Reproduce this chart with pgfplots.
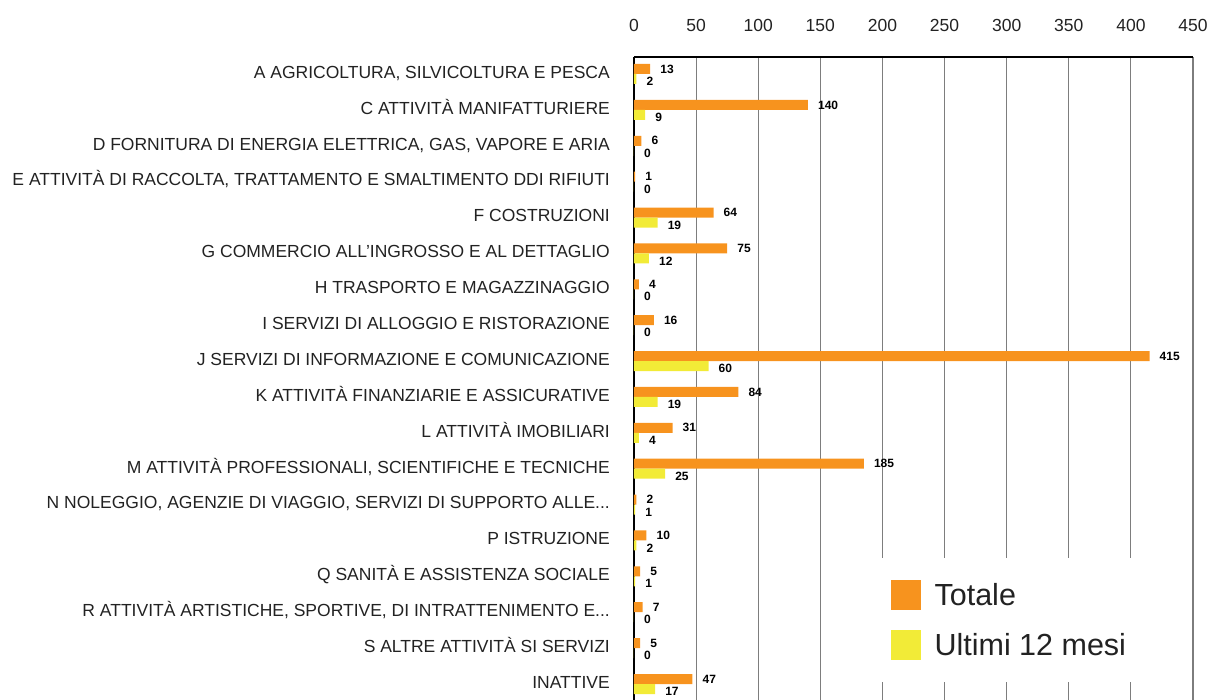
\documentclass[border=0pt]{standalone}
\usepackage{pgfplots}
\pgfplotsset{compat=1.18}
\usepackage{pgfplotstable}
\usepackage{fontspec}
\setmainfont{Liberation Sans}
\definecolor{orangeT}{RGB}{247,147,30}
\definecolor{yellowU}{RGB}{242,235,55}
\definecolor{gridc}{RGB}{125,125,125}
\definecolor{txt}{RGB}{34,34,34}
\newcommand{\dd}{.\kern0pt.\kern0pt.}
\pgfplotstableread{
idx tot ult
0 13 2
1 140 9
2 6 0
3 1 0
4 64 19
5 75 12
6 4 0
7 16 0
8 415 60
9 84 19
10 31 4
11 185 25
12 2 1
13 10 2
14 5 1
15 7 0
16 5 0
17 47 17
}\datatable
\begin{document}
\begin{tikzpicture}
\useasboundingbox (0,0) rectangle (1213pt,-700pt);
\begin{axis}[
  at={(634pt,-57pt)}, anchor=north west,
  scale only axis, width=559pt, height=643pt,
  xbar, bar width=10pt,
  xmin=0, xmax=450, xtick={0,50,...,450},
  ymin=-0.4735, ymax=17.446, y dir=reverse,
  ytick={0,...,17},
  yticklabels={
    {A AGRICOLTURA, SILVICOLTURA E PESCA},
    {C ATTIVITÀ MANIFATTURIERE},
    {D FORNITURA DI ENERGIA ELETTRICA, GAS, VAPORE E ARIA},
    {E ATTIVITÀ DI RACCOLTA, TRATTAMENTO E SMALTIMENTO DDI RIFIUTI},
    {F COSTRUZIONI},
    {G COMMERCIO ALL'INGROSSO E AL DETTAGLIO},
    {H TRASPORTO E MAGAZZINAGGIO},
    {I SERVIZI DI ALLOGGIO E RISTORAZIONE},
    {J SERVIZI DI INFORMAZIONE E COMUNICAZIONE},
    {K ATTIVITÀ FINANZIARIE E ASSICURATIVE},
    {L ATTIVITÀ IMOBILIARI},
    {M ATTIVITÀ PROFESSIONALI, SCIENTIFICHE E TECNICHE},
    {N NOLEGGIO, AGENZIE DI VIAGGIO, SERVIZI DI SUPPORTO ALLE\dd},
    {P ISTRUZIONE},
    {Q SANITÀ E ASSISTENZA SOCIALE},
    {R ATTIVITÀ ARTISTICHE, SPORTIVE, DI INTRATTENIMENTO E\dd},
    {S ALTRE ATTIVITÀ SI SERVIZI},
    {INATTIVE}},
  axis x line*=top, axis y line*=left,
  axis line style={line width=2.5pt,-,black},
  major tick length=0pt,
  xmajorgrids, grid style={gridc, line width=1.2pt},
  tick label style={font=\fontsize{17.5}{20}\selectfont, text=txt},
  /pgf/number format/assume math mode=true,
  xticklabel style={yshift=22pt},
  yticklabel style={inner sep=0pt, anchor=mid east, xshift=-24pt, yshift=-1.7pt},
  nodes near coords,
  nodes near coords style={anchor=west, inner sep=0pt, xshift=10pt,
    font=\bfseries\fontsize{12}{12}\selectfont, text=black},
  legend cell align=left,
  legend style={draw=none, fill=white,
    at={(axis description cs:0.396,0.2209)}, anchor=north west,
    font=\fontsize{30.5}{36}\selectfont, text=txt,
    inner xsep=35pt, inner ysep=22pt, row sep=20pt,
    /tikz/every odd column/.append style={column sep=12pt}},
]
\addplot[fill=orangeT, draw=none, bar shift=5pt,
  legend image code/.code={\fill[orangeT] (0pt,-15pt) rectangle (30pt,15pt);}]
  table[x=tot, y=idx] {\datatable};
\addlegendentry{Totale}
\addplot[fill=yellowU, draw=none, bar shift=-5pt,
  nodes near coords style={yshift=-2.5pt},
  legend image code/.code={\fill[yellowU] (0pt,-15pt) rectangle (30pt,15pt);}]
  table[x=ult, y=idx] {\datatable};
\addlegendentry{Ultimi 12 mesi}
\end{axis}
\end{tikzpicture}
\end{document}
